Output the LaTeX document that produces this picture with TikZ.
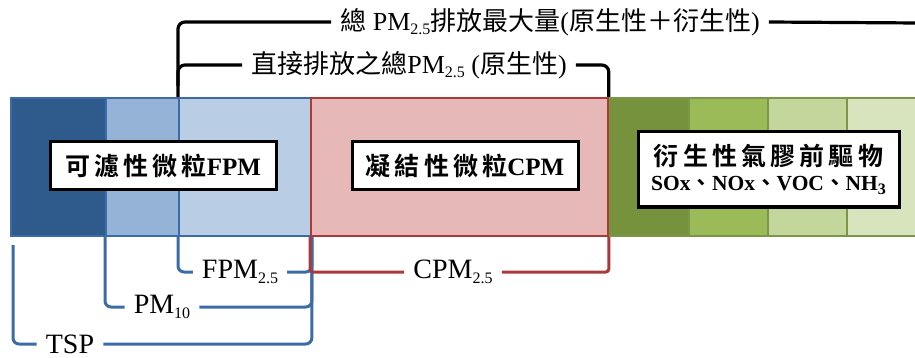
\documentclass[tikz,border=0pt]{standalone}
\usepackage{fontspec}
\setmainfont{Liberation Serif}
\newfontfamily\cjk[BoldFont={Noto Sans CJK TC Bold}]{Noto Sans CJK TC}
\newcommand{\zh}[1]{{\cjk #1}}
\newcommand{\lowsub}[1]{\raisebox{-0.35ex}{\fontsize{16}{16}\selectfont #1}}
\definecolor{dblue}{RGB}{47,90,140}
\definecolor{mblue}{RGB}{149,179,215}
\definecolor{lblue}{RGB}{185,205,229}
\definecolor{bline}{RGB}{60,108,168}
\definecolor{pinkf}{RGB}{230,184,183}
\definecolor{rline}{RGB}{170,58,58}
\definecolor{g1c}{RGB}{118,146,60}
\definecolor{g2c}{RGB}{155,187,89}
\definecolor{g3c}{RGB}{195,214,155}
\definecolor{g4c}{RGB}{215,228,189}
\definecolor{gline}{RGB}{122,150,70}
\tikzset{
  cell/.style={draw, line width=1.8pt, rectangle, inner sep=0pt, anchor=north west, minimum height=138pt},
  lbox/.style={draw=black, fill=white, line width=3pt, rectangle, inner sep=0pt, font=\bfseries\fontsize{25}{28}\selectfont},
  lbl/.style={inner xsep=9pt, inner ysep=0pt, font=\fontsize{26}{28}\selectfont},
  blbl/.style={inner xsep=9pt, inner ysep=0pt, font=\fontsize{28}{30}\selectfont},
  blk/.style={draw=black, line width=3.2pt, rounded corners=7pt},
  bl/.style={draw=bline, line width=3pt, rounded corners=6pt},
  rd/.style={draw=rline, line width=3pt, rounded corners=3pt},
}
\begin{document}
\begin{tikzpicture}[x=1pt,y=-1pt]
\useasboundingbox (0,0) rectangle (915,358);
% bar
\node[cell, fill=dblue, draw=bline, minimum width=95pt] (b1) at (10,97) {};
\node[cell, fill=mblue, draw=bline, minimum width=73pt] (b2) at (105,97) {};
\node[cell, fill=lblue, draw=bline, minimum width=132pt] (b3) at (178,97) {};
\node[cell, fill=g1c, draw=gline, minimum width=81pt] (g1) at (607,97) {};
\node[cell, fill=g2c, draw=gline, minimum width=79pt] (g2) at (688,97) {};
\node[cell, fill=g3c, draw=gline, minimum width=79pt] (g3) at (767,97) {};
\node[cell, fill=g4c, draw=gline, minimum width=80pt] (g4) at (846,97) {};
\node[cell, fill=pinkf, draw=rline, minimum width=297pt] (b4) at (310,97) {};
% label boxes
\node[lbox, minimum width=226pt, minimum height=48pt] (fpm) at (163,166) {\zh{\bfseries 可\,濾\,性\,微\,粒}FPM};
\node[lbox, minimum width=226pt, minimum height=48pt] (cpm) at (465,166) {\zh{\bfseries 凝\,結\,性\,微\,粒}CPM};
\node[lbox, minimum width=261pt, minimum height=75pt, align=center] (sec) at (768.5,169.5)
  {\zh{\bfseries 衍\,生\,性\,氣\,膠\,前\,驅\,物}\\[-3pt]{\fontsize{21.5}{22}\selectfont SOx\zh{\bfseries 、}NOx\zh{\bfseries 、}VOC\zh{\bfseries 、}NH\lowsub{\bfseries 3}}};
% top labels
\node[lbl] (t1) at (550,22) {\zh{總} PM\lowsub{2.5}\zh{排放最大量}(\zh{原生性＋衍生性})};
\node[lbl] (t2) at (409,65) {\zh{直接排放之總}PM\lowsub{2.5} (\zh{原生性})};
\coordinate (re1) at (918,23);
\coordinate (j1) at (178,86);
\draw[blk] (b3.north west) |- (t1.west);
\draw[blk] (t1.east) -- (re1);
\draw[blk] (j1) |- (t2.west);
\draw[blk] (t2.east) -| (b4.north east);
% bottom labels
\node[blbl] (f25) at (240,272) {FPM\lowsub{2.5}};
\node[blbl] (pm10) at (162,307) {PM\lowsub{10}};
\node[blbl] (tsp) at (70,344) {TSP};
\node[blbl] (c25) at (453,272) {CPM\lowsub{2.5}};
\coordinate (tspTop) at (13,245);
\draw[bl] (b3.south west) |- (f25.west);
\draw[bl] (f25.east) -| (b3.south east);
\draw[bl] (b2.south west) |- (pm10.west);
\draw[bl] (pm10.east) -| (b3.south east);
\draw[bl] (tspTop) |- (tsp.west);
\draw[bl] (tsp.east) -| (b3.south east);
\draw[rd] (b4.south west) |- (c25.west);
\draw[rd] (c25.east) -| (b4.south east);
\end{tikzpicture}
\end{document}
